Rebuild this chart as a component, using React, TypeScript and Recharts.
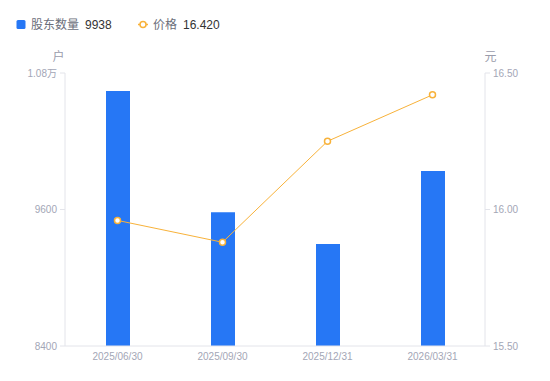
import React from 'react';
import { ComposedChart, Bar, Line, XAxis, YAxis } from 'recharts';

const categories = ['2025/06/30', '2025/09/30', '2025/12/31', '2026/03/31'];
const holders = [10642, 9575, 9297, 9938];
const prices = [15.96, 15.88, 16.25, 16.42];
const leftTicks = [8400, 9600, 10800];
const rightTicks = [15.5, 16.0, 16.5];

const data = categories.map((c, i) => ({ date: c, holders: holders[i], price: prices[i] }));

const FONT = '"Liberation Sans", Arial, "Noto Sans CJK SC", sans-serif';
const BLUE = '#2677f5';
const ORANGE = '#f8b23a';
const AXIS = '#e3e4ea';
const TICK = '#a3a6b6';

const fmtLeft = (v: number) => (v >= 10000 ? `${(v / 10000).toFixed(2)}万` : `${v}`);

const UnitLabel = (side: 'left' | 'right', text: string) => (props: any) => {
  const vb = props.viewBox || {};
  const x = side === 'left' ? vb.x + vb.width - 6.5 : vb.x + 5.5;
  return (
    <text x={x} y={vb.y - 16} textAnchor="middle" dominantBaseline="central" fontSize={12} fill="#9a9cab" fontFamily={FONT}>
      {text}
    </text>
  );
};

export default function App() {
  const lastHolders = holders[holders.length - 1];
  const lastPrice = prices[prices.length - 1];
  return (
    <div style={{ position: 'absolute', left: 0, top: 0, width: 550, height: 381, fontFamily: FONT }}>
      <div style={{ position: 'absolute', left: 0, top: 0, width: 550, height: 48, zIndex: 2 }}>
        <svg width={550} height={48} style={{ position: 'absolute', left: 0, top: 0 }}>
          <rect x={16.5} y={20} width={9} height={9} rx={1.5} fill={BLUE} />
          <text x={31} y={24.5} dominantBaseline="central" fontSize={12} fill="#6b6e7a" fontFamily={FONT}>股东数量</text>
          <text x={85} y={24.5} dominantBaseline="central" fontSize={12} fill="#333" fontFamily={FONT}>{lastHolders}</text>
          <line x1={138} y1={24.5} x2={148} y2={24.5} stroke={ORANGE} strokeWidth={1.5} />
          <circle cx={143} cy={24.5} r={3} fill="#fff" stroke={ORANGE} strokeWidth={1.5} />
          <text x={153} y={24.5} dominantBaseline="central" fontSize={12} fill="#6b6e7a" fontFamily={FONT}>价格</text>
          <text x={183} y={24.5} dominantBaseline="central" fontSize={12} fill="#333" fontFamily={FONT}>{lastPrice.toFixed(3)}</text>
        </svg>
      </div>
      <ComposedChart width={550} height={381} data={data} margin={{ top: 73, right: 0, bottom: 0, left: 0 }}>
        <XAxis
          dataKey="date"
          height={35}
          tickLine={false}
          axisLine={{ stroke: AXIS }}
          tickSize={5}
          tickMargin={2}
          tick={{ fontSize: 10, fill: TICK, fontFamily: FONT }}
        />
        <YAxis
          yAxisId="left"
          orientation="left"
          width={65}
          domain={[8400, 10800]}
          ticks={leftTicks}
          tickFormatter={fmtLeft}
          axisLine={{ stroke: AXIS }}
          tickLine={{ stroke: AXIS }}
          tickSize={5}
          tickMargin={3}
          tick={{ fontSize: 10, fill: TICK, fontFamily: FONT }}
          label={UnitLabel('left', '户')}
          allowDataOverflow
        />
        <YAxis
          yAxisId="right"
          orientation="right"
          width={65}
          domain={[15.5, 16.5]}
          ticks={rightTicks}
          tickFormatter={(v: number) => v.toFixed(2)}
          axisLine={{ stroke: AXIS }}
          tickLine={{ stroke: AXIS }}
          tickSize={5}
          tickMargin={3}
          tick={{ fontSize: 10, fill: TICK, fontFamily: FONT }}
          label={UnitLabel('right', '元')}
          allowDataOverflow
        />
        <Bar yAxisId="left" dataKey="holders" fill={BLUE} barSize={24} isAnimationActive={false} />
        <Line
          yAxisId="right"
          type="linear"
          dataKey="price"
          stroke={ORANGE}
          strokeWidth={1}
          dot={{ r: 3, fill: '#fff', stroke: ORANGE, strokeWidth: 1.5 }}
          activeDot={false}
          isAnimationActive={false}
        />
      </ComposedChart>
    </div>
  );
}
